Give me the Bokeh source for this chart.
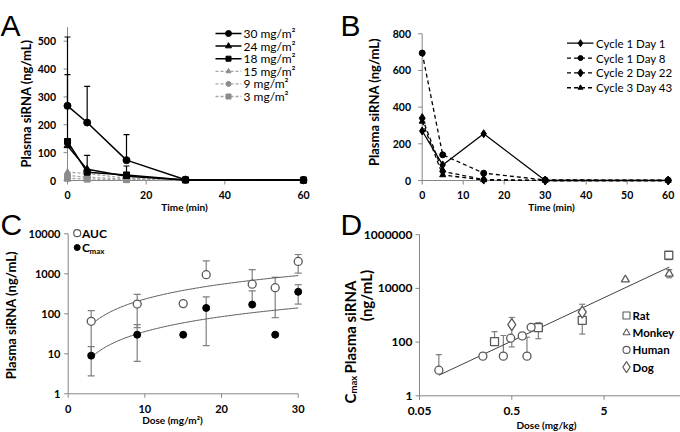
import math
import numpy as np
from bokeh.plotting import figure
from bokeh.layouts import column, row
from bokeh.models import Label, Range1d
from bokeh.embed import file_html
from bokeh.resources import INLINE

FONT = "Lato"
LETTER_FONT = "Liberation Sans"
AXC = "#868686"
ERRC = "#7f7f7f"
SYMC = "#595959"

# ---------------- Panel A data ----------------
a_time = [0, 5, 15, 30, 60]
a_30 = [268, 208, 73, 3, 2]
a_30_err = [247, 130, 92, 0, 0]
a_24 = [125, 40, 15, 2, 1]
a_24_err = [0, 50, 0, 0, 0]
a_18 = [140, 30, 20, 2, 1]
a_18_err = [240, 0, 32, 0, 0]
a_15 = [30, 25, 8, 2, 2]
a_9 = [18, 12, 5, 2, 2]
a_3 = [8, 5, 3, 2, 2]
a_names = ["30 mg/m²", "24 mg/m²", "18 mg/m²", "15 mg/m²", "9 mg/m²", "3 mg/m²"]
a_xticks = [0, 20, 40, 60]
a_yticks = [0, 100, 200, 300, 400, 500]
a_ymax = 550

# ---------------- Panel B data ----------------
b_time = [0, 5, 15, 30, 60]
b_c1d1 = [270, 85, 255, 0, 0]
b_c1d8 = [695, 140, 40, 3, 2]
b_c2d22 = [340, 50, 5, 0, 0]
b_c3d43 = [322, 30, 3, 0, 0]
b_names = ["Cycle 1 Day 1", "Cycle 1 Day 8", "Cycle 2 Day 22", "Cycle 3 Day 43"]
b_xticks = [0, 10, 20, 30, 40, 50, 60]
b_yticks = [0, 200, 400, 600, 800]

# ---------------- Panel C data ----------------
c_dose = [3, 9, 15, 18, 24, 27, 30]
c_auc = [65, 175, 180, 950, 550, 450, 2040]
c_auc_err = [55, 130, 0, 1150, 720, 370, 1000]
c_cmax = [9, 30, 30, 140, 170, 30, 355]
c_cmax_err = [6.2, 23.5, 0, 124, 206, 0, 180]
c_xticks = [0, 10, 20, 30]
c_yticks = [1, 10, 100, 1000, 10000]

# ---------------- Panel D data ----------------
d_rat_dose = [0.325, 0.97, 2.9, 25.1]
d_rat = [105, 344, 645, 171800]
d_rat_up = [140, 186, 0, 0]
d_rat_dn = [0, 210, 446, 54000]
d_monkey_dose = [8.5, 25.4]
d_monkey = [21300, 35000]
d_monkey_up = [0, 15000]
d_monkey_dn = [0, 10000]
d_human_dose = [0.081, 0.243, 0.405, 0.486, 0.649, 0.73, 0.81]
d_human = [9, 30, 30, 140, 170, 30, 355]
d_human_up = [25, 0, 146, 0, 0, 122, 0]
d_human_dn = [0, 0, 0, 0, 0, 0, 0]
d_dog_dose = [0.5, 2.9]
d_dog = [446, 1318]
d_dog_up = [380, 1250]
d_dog_dn = [380, 0]
d_xticks = [0.05, 0.5, 5]
d_yticks = [1, 100, 10000, 1000000]


class Map:
    """screen pixel -> data value along one axis"""
    def __init__(self, p0, v0, p1, v1, log=False):
        self.p0, self.p1, self.log = p0, p1, log
        self.v0 = math.log10(v0) if log else v0
        self.v1 = math.log10(v1) if log else v1

    def __call__(self, px):
        v = self.v0 + (px - self.p0) * (self.v1 - self.v0) / (self.p1 - self.p0)
        return float(10 ** v) if self.log else float(v)


def make_fig(box, mx, my, xlog=False, ylog=False):
    bx0, by0, bx1, by1 = box
    p = figure(width=bx1 - bx0, height=by1 - by0,
               min_border_left=0, min_border_right=0, min_border_top=0, min_border_bottom=0,
               x_range=Range1d(mx(bx0), mx(bx1)), y_range=Range1d(my(by1), my(by0)),
               x_axis_type="log" if xlog else "linear",
               y_axis_type="log" if ylog else "linear",
               x_axis_location=None, y_axis_location=None,
               output_backend="svg", toolbar_location=None)
    p.grid.visible = False
    p.outline_line_color = None
    p.background_fill_color = "white"
    p.border_fill_color = "white"
    return p


def txt(p, x, y, s, size=11, bold=True, align="center", base="middle",
        angle=0.0, color="black", font=FONT):
    p.add_layout(Label(x=x, y=y, text=s, text_font=font,
                       text_font_size=f"{size}px",
                       text_font_style="bold" if bold else "normal",
                       text_align=align, text_baseline=base, angle=angle,
                       text_color=color))


def draw_axes(p, mx, my, ax_px, ay_px, x0, y0, xend, yend, xticks, yticks,
              ylab_px, xlab_py, size):
    p.segment(x0=[x0, x0], y0=[y0, y0], x1=[x0, xend], y1=[yend, y0],
              line_color=AXC, line_width=1)
    n = len(yticks)
    p.segment(x0=[mx(ax_px - 4)] * n, y0=yticks, x1=[x0] * n, y1=yticks, line_color=AXC)
    m = len(xticks)
    p.segment(x0=xticks, y0=[y0] * m, x1=xticks, y1=[my(ay_px + 4)] * m, line_color=AXC)
    for v in yticks:
        txt(p, mx(ylab_px), v, str(v), size=size, align="right")
    for v in xticks:
        txt(p, v, my(xlab_py), str(v), size=size)


def errbars(p, xs, vals, up, dn, cap, color=ERRC, width=1.2):
    x0, y0, y1, cx, cy = [], [], [], [], []
    for x, v, u, d in zip(xs, vals, up, dn):
        lo = v - d if (d > 0 and v - d > 0) else v
        hi = v + u if u > 0 else v
        if hi == v and lo == v:
            continue
        x0.append(x); y0.append(lo); y1.append(hi)
        if hi > v:
            cx.append(x); cy.append(hi)
        if lo < v:
            cx.append(x); cy.append(lo)
    p.segment(x0=x0, y0=y0, x1=x0, y1=y1, line_color=color, line_width=width)
    p.scatter(cx, cy, marker="dash", size=cap, line_color=color, line_width=width)


def powfit(x, y):
    b, a = np.polyfit(np.log(x), np.log(y), 1)
    return lambda xx: np.exp(a) * np.asarray(xx, dtype=float) ** b


SPLIT = 200

# =============== Panel A ===============
mxA = Map(67, 0, 303, 60)
myA = Map(180, 0, 40.7, 500)
pA = make_fig((0, 0, 340, SPLIT), mxA, myA)
draw_axes(pA, mxA, myA, 67, 180, 0, 0, a_xticks[-1], a_ymax, a_xticks, a_yticks,
          55.5, 194.5, 10.5)
txt(pA, mxA(25), myA(103), "Plasma siRNA (ng/mL)", size=13, angle=math.pi / 2)

GRAYL = "#a6a6a6"
GRAYM = "#8c8c8c"
a_series = [
    (a_3, GRAYL, GRAYM, "3 2", "square", 6),
    (a_9, GRAYL, GRAYM, "3 2", "circle", 6),
    (a_15, GRAYL, GRAYM, "3 2", "triangle", 6),
    (a_18, "black", "black", "solid", "square", 6),
    (a_24, "black", "black", "solid", "triangle", 7),
    (a_30, "black", "black", "solid", "circle", 7),
]
for vals, err in [(a_30, a_30_err), (a_24, a_24_err), (a_18, a_18_err)]:
    errbars(pA, a_time, vals, err, [0] * len(err), 6, color="black", width=1.2)
for vals, lc, mc, dash, mk, sz in a_series:
    pA.line(a_time, vals, line_color=lc, line_width=1.5 if lc == "black" else 1.3,
            line_dash=dash)
    pA.scatter(a_time, vals, marker=mk, size=sz, fill_color=mc, line_color=mc)

a_leg = [a_series[5], a_series[4], a_series[3], a_series[2], a_series[1], a_series[0]]
for i, (name, (vals, lc, mc, dash, mk, sz)) in enumerate(zip(a_names, a_leg)):
    yy = myA(33 + i * 12.6)
    pA.line([mxA(215), mxA(241)], [yy, yy], line_color=lc,
            line_width=1.5 if lc == "black" else 1.3, line_dash=dash)
    pA.scatter([mxA(228)], [yy], marker=mk, size=sz - 1, fill_color=mc, line_color=mc)
    txt(pA, mxA(243), yy, name, size=12, bold=False, align="left")

txt(pA, mxA(0), myA(25), "A", size=30, bold=False, align="left", base="alphabetic",
    font=LETTER_FONT)

# =============== Panel B ===============
mxB = Map(421.7, 0, 667.7, 60)
myB = Map(180, 0, 33.3, 800)
pB = make_fig((340, 0, 680, SPLIT), mxB, myB)
draw_axes(pB, mxB, myB, 421.7, 180, 0, 0, b_xticks[-1], b_yticks[-1], b_xticks, b_yticks,
          410.5, 194.3, 10.5)
txt(pB, mxB(373), myB(101.5), "Plasma siRNA (ng/mL)", size=13, angle=math.pi / 2)

b_series = [
    (b_c1d1, "solid", "diamond", 8),
    (b_c1d8, "4 3", "circle", 6),
    (b_c2d22, "4 3", "diamond", 9),
    (b_c3d43, "4 3", "triangle", 6),
]
for vals, dash, mk, sz in b_series:
    pB.line(b_time, vals, line_color="black", line_width=1.3, line_dash=dash)
    pB.scatter(b_time, vals, marker=mk, size=sz, fill_color="black", line_color="black")
for i, (name, (vals, dash, mk, sz)) in enumerate(zip(b_names, b_series)):
    yy = myB(42.7 + i * 14.85)
    pB.line([mxB(566.5), mxB(593)], [yy, yy], line_color="black", line_width=1.3,
            line_dash=dash)
    pB.scatter([mxB(580)], [yy], marker=mk, size=sz - 1, fill_color="black",
               line_color="black")
    txt(pB, mxB(595.5), yy, name, size=11.5, bold=False, align="left")

txt(pB, mxB(340), myB(25), "B", size=30, bold=False, align="left", base="alphabetic",
    font=LETTER_FONT)

# =============== Panel C ===============
mxC = Map(67.7, 0, 297.7, 30)
myC = Map(393.3, 1, 233.3, 10000, log=True)
pC = make_fig((0, SPLIT, 340, 432), mxC, myC, ylog=True)
draw_axes(pC, mxC, myC, 67.7, 393.3, 0, 1, c_xticks[-1], c_yticks[-1], c_xticks, c_yticks,
          60, 408.7, 11)

errbars(pC, c_dose, c_auc, c_auc_err, c_auc_err, 7)
errbars(pC, c_dose, c_cmax, c_cmax_err, c_cmax_err, 7)
xs_fit = np.linspace(min(c_dose), max(c_dose), 150)
auc_fit = powfit(c_dose, c_auc)
cmax_fit = powfit(c_dose, c_cmax)
pC.line(xs_fit, auc_fit(xs_fit), line_color=SYMC, line_width=1)
pC.line(xs_fit, cmax_fit(xs_fit), line_color=SYMC, line_width=1)
pC.scatter(c_dose, c_auc, marker="circle", size=8, fill_color="white", line_color=SYMC,
           line_width=1.3)
pC.scatter(c_dose, c_cmax, marker="circle", size=7, fill_color="black", line_color="black")

pC.scatter([mxC(76.7)], [myC(232.7)], marker="circle", size=7, fill_color="white",
           line_color=SYMC, line_width=1.2)
txt(pC, mxC(81.5), myC(232.7), "AUC", size=12, align="left")
pC.scatter([mxC(76.7)], [myC(247)], marker="circle", size=6, fill_color="black",
           line_color="black")
txt(pC, mxC(81.5), myC(246.5), "C", size=12, align="left")
txt(pC, mxC(89), myC(250), "max", size=8, align="left")

txt(pC, mxC(10), myC(313), "Plasma  siRNA (ng/mL)", size=13, angle=math.pi / 2)
txt(pC, mxC(172), myC(419.3), "Dose (mg/m²)", size=10)
# x-axis title of panel A and panel letter C (lie below the split line)
txt(pC, mxC(184), myC(206.5), "Time (min)", size=10)
txt(pC, mxC(0), myC(224), "C", size=30, bold=False, align="left", base="alphabetic",
    font=LETTER_FONT)

# =============== Panel D ===============
mxD = Map(419, 0.05, 511.3, 0.5, log=True)
myD = Map(395.3, 1, 341.6, 100, log=True)
pD = make_fig((340, SPLIT, 680, 432), mxD, myD, xlog=True, ylog=True)
draw_axes(pD, mxD, myD, 419, 395.3, 0.05, 1, mxD(680), d_yticks[-1], d_xticks, d_yticks,
          412, 410.3, 12)

errbars(pD, d_rat_dose, d_rat, d_rat_up, d_rat_dn, 6)
errbars(pD, d_monkey_dose, d_monkey, d_monkey_up, d_monkey_dn, 6)
errbars(pD, d_human_dose, d_human, d_human_up, d_human_dn, 6)
errbars(pD, d_dog_dose, d_dog, d_dog_up, d_dog_dn, 6)

all_dose = d_rat_dose + d_monkey_dose + d_human_dose + d_dog_dose
all_val = d_rat + d_monkey + d_human + d_dog
d_fit = powfit(all_dose, all_val)
fx = np.array([min(all_dose), max(all_dose)])
pD.line(fx, d_fit(fx), line_color="#404040", line_width=1)

d_groups = [
    ("Rat", d_rat_dose, d_rat, "square", 8),
    ("Monkey", d_monkey_dose, d_monkey, "triangle", 8),
    ("Human", d_human_dose, d_human, "circle", 8),
    ("Dog", d_dog_dose, d_dog, "diamond", 12),
]
for name, xs, ys, mk, sz in d_groups:
    pD.scatter(xs, ys, marker=mk, size=sz, fill_color="white", line_color=SYMC, line_width=1.3)
for i, (name, xs, ys, mk, sz) in enumerate(d_groups):
    yy = myD(315 + i * 17.2)
    pD.scatter([mxD(626)], [yy], marker=mk, size=sz - 1, fill_color="white", line_color=SYMC,
               line_width=1.1)
    txt(pD, mxD(632), yy, name, size=11.5, align="left")

ang = math.pi / 2
txt(pD, mxD(349), myD(403), "C", size=15, angle=ang, align="left")
txt(pD, mxD(352.5), myD(393), "max", size=9.5, angle=ang, align="left")
txt(pD, mxD(349), myD(373), "Plasma  siRNA", size=15, angle=ang, align="left")
txt(pD, mxD(365), myD(295), "(ng/mL)", size=15, angle=ang)
txt(pD, mxD(546), myD(424), "Dose (mg/kg)", size=10)
# x-axis title of panel B and panel letter D (lie below the split line)
txt(pD, mxD(551), myD(206.5), "Time (min)", size=10)
txt(pD, mxD(340), myD(224), "D", size=30, bold=False, align="left", base="alphabetic",
    font=LETTER_FONT)

layout = column(row(pA, pB), row(pC, pD))
open("out.html", "w").write(file_html(layout, INLINE))
